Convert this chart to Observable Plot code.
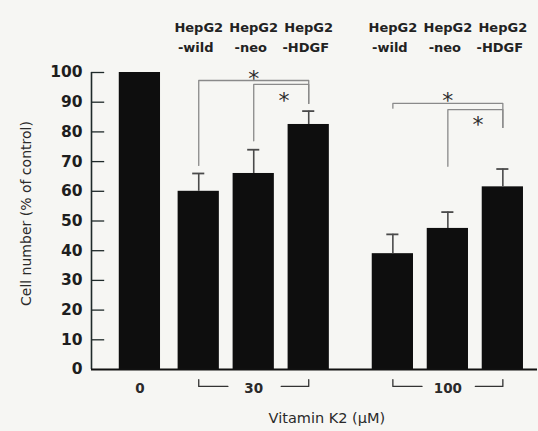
<!DOCTYPE html>
<html>
<head>
<meta charset="utf-8">
<script src="https://cdn.jsdelivr.net/npm/d3@7"></script>
<script src="https://cdn.jsdelivr.net/npm/@observablehq/plot@0.6"></script>
<style>
  html, body { margin: 0; padding: 0; background: #f6f6f3; }
  #chart svg { display: block; }
</style>
</head>
<body>
<div id="chart"></div>
<script>
// Cell growth of HepG2 sublines after vitamin K2 treatment
const doses = ["0", "30", "30", "30", "100", "100", "100"];
const cellLines = ["control", "-wild", "-neo", "-HDGF", "-wild", "-neo", "-HDGF"];
const cellPct = [100, 60, 66, 82.5, 39, 47.5, 61.5];
const errPct = [0, 6, 8, 4.5, 6.5, 5.5, 6];
const yTicks = [0, 10, 20, 30, 40, 50, 60, 70, 80, 90, 100];
const doseLabels = ["0", "30", "100"];

// significance comparisons (bar index pairs) with bracket heights in % units
const sigFrom = [1, 2, 4, 5];
const sigTo = [3, 3, 6, 6];
const sigLevel = [97.3, 96, 89.6, 87.5];
const sigLegFrom = [68.7, 77, 88, 68.4];
const sigLegTo = [89.6, 89.6, 81.5, 81.5];
const starY = [100, 92.5, 92.3, 84.2];

// layout: where each dose group starts on the x axis, bar width in slot units
const groupStart = {"0": 0, "30": 1.07, "100": 4.6};
const halfBar = 0.375;
const xMin = -0.88, xMax = 7.23;

const indexInGroup = doses.map((d, i) => doses.slice(0, i).filter(e => e === d).length);
const bars = doses.map((d, i) => ({
  dose: d,
  line: cellLines[i],
  value: cellPct[i],
  err: errPct[i],
  pos: groupStart[d] + indexInGroup[i]
}));
const posOf = i => bars[i].pos;

const errBars = bars.filter(b => b.err > 0);

const bracketPts = sigFrom.flatMap((a, k) => [
  {k, x: posOf(a), y: sigLegFrom[k]},
  {k, x: posOf(a), y: sigLevel[k]},
  {k, x: posOf(sigTo[k]), y: sigLevel[k]},
  {k, x: posOf(sigTo[k]), y: sigLegTo[k]}
]);
const stars = sigFrom.map((a, k) => {
  const b = sigTo[k];
  const outer = b - a > 1;
  return {x: outer ? (posOf(a) + posOf(b)) / 2 : (posOf(a) + posOf(b)) / 2 + 0.05, y: starY[k]};
});

// dose labels under the axis; multi-bar groups get a bracket on each side
const doseMarks = doseLabels.map(d => {
  const g = bars.filter(b => b.dose === d);
  const mid = g[Math.floor(g.length / 2)].pos;
  return {dose: d, x: mid, first: g[0].pos, last: g[g.length - 1].pos, n: g.length};
});
const doseRulePts = doseMarks.filter(m => m.n > 1).flatMap((m, j) => [
  {k: "L" + j, x: m.first, y: -3.4},
  {k: "L" + j, x: m.first, y: -5.7},
  {k: "L" + j, x: m.first + 0.53, y: -5.7},
  {k: "R" + j, x: m.last - 0.5, y: -5.7},
  {k: "R" + j, x: m.last, y: -5.7},
  {k: "R" + j, x: m.last, y: -3.4}
]);

const headerBars = bars.filter(b => b.dose !== "0");
const font = "DejaVu Sans, sans-serif";

const chart = Plot.plot({
  width: 538,
  height: 431,
  marginLeft: 91,
  marginRight: 1,
  marginTop: 72,
  marginBottom: 62,
  style: {background: "#f6f6f3", fontFamily: font, color: "#1a1a1a"},
  x: {domain: [xMin, xMax], axis: null},
  y: {domain: [0, 100], axis: null},
  marks: [
    // bars
    Plot.rectY(bars, {x1: d => d.pos - halfBar, x2: d => d.pos + halfBar, y1: 0, y2: "value", fill: "#0e0e0e"}),
    // error bars (upper only)
    Plot.ruleX(errBars, {x: "pos", y1: "value", y2: d => d.value + d.err, stroke: "#4a4a4a", strokeWidth: 1.6}),
    Plot.ruleY(errBars, {y: d => d.value + d.err, x1: d => d.pos - 0.11, x2: d => d.pos + 0.11, stroke: "#4a4a4a", strokeWidth: 1.8}),
    // significance brackets
    Plot.line(bracketPts, {x: "x", y: "y", z: "k", stroke: "#8a8a8a", strokeWidth: 1.3, curve: "linear"}),
    Plot.text(stars, {x: "x", y: "y", text: () => "*", fontSize: 22, dy: 6, fill: "#2e2e2e", fontFamily: font}),
    // axes
    Plot.ruleX([xMin], {y1: 0, y2: 100, stroke: "#1f2a2a", strokeWidth: 1.6}),
    Plot.ruleY(yTicks.filter(t => t > 0), {y: d => d, x1: xMin, x2: xMin + 0.24, stroke: "#1f2a2a", strokeWidth: 1.3}),
    Plot.ruleY([0], {x1: xMin, x2: xMax, stroke: "#111", strokeWidth: 2}),
    Plot.text(yTicks, {x: xMin, y: d => d, text: d => String(d), dx: -9, textAnchor: "end", fontSize: 15.5, fontWeight: "bold", fill: "#1e1e1e", fontFamily: font}),
    Plot.text(["Cell number (% of control)"], {frameAnchor: "left", textAnchor: "middle", y: 52.5, dx: -65, rotate: -90, fontSize: 14, fill: "#2a2a2a", fontFamily: font}),
    // column headers
    Plot.text(headerBars, {x: "pos", frameAnchor: "top", text: () => "HepG2", dy: -50, fontSize: 13, fontWeight: "bold", fill: "#222", fontFamily: font}),
    Plot.text(headerBars, {x: "pos", frameAnchor: "top", text: "line", dx: -3, dy: -30, fontSize: 13, fontWeight: "bold", fill: "#222", fontFamily: font}),
    // dose labels
    Plot.text(doseMarks, {x: "x", y: -6.6, text: "dose", fontSize: 13.5, fontWeight: "bold", fill: "#2a2a2a", fontFamily: font}),
    Plot.line(doseRulePts, {x: "x", y: "y", z: "k", stroke: "#333", strokeWidth: 1.3}),
    Plot.text(["Vitamin K2 (µM)"], {x: 3.4, frameAnchor: "bottom", dy: 53, fontSize: 14.5, fill: "#2a2a2a", fontFamily: font})
  ]
});

document.getElementById("chart").appendChild(chart);
</script>
</body>
</html>
